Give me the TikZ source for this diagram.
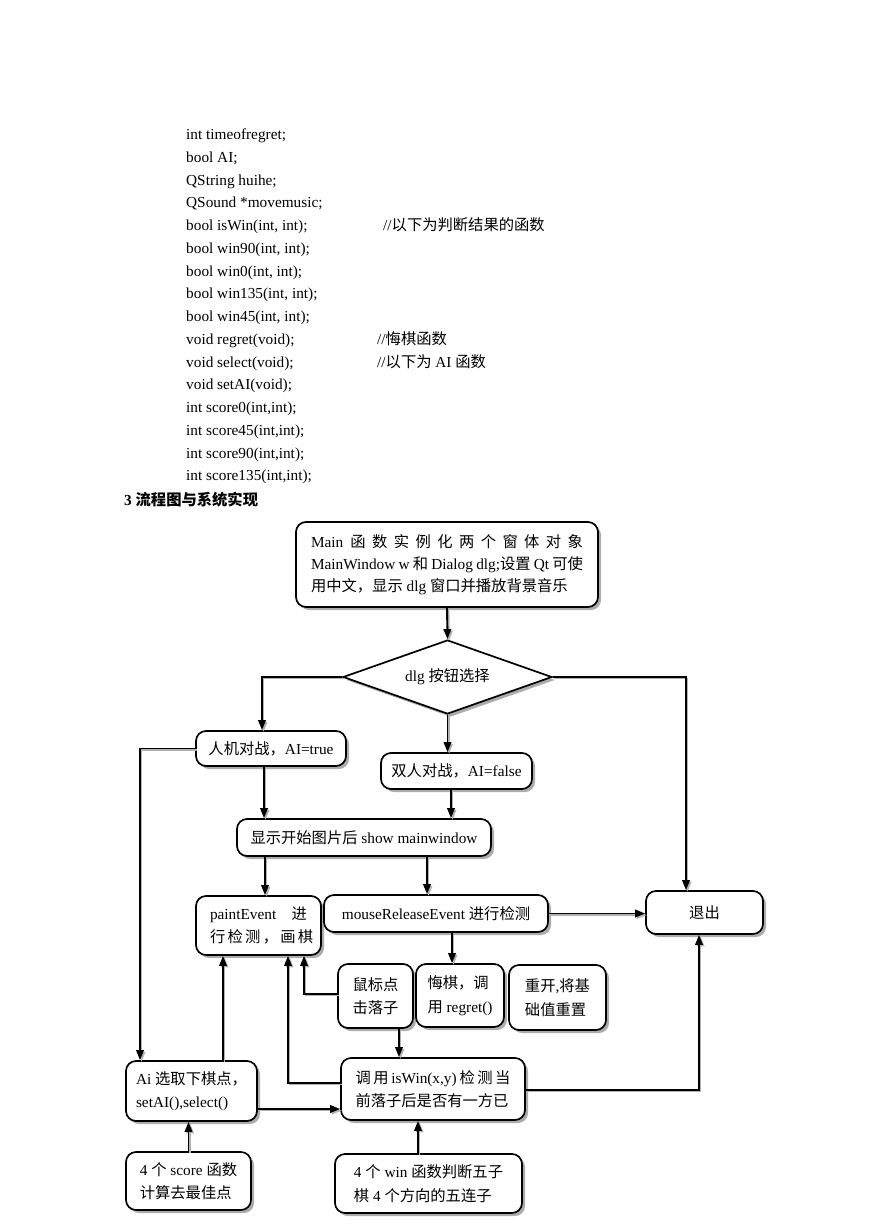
\documentclass[tikz,border=0pt]{standalone}
\usepackage{fontspec}
\setmainfont{Liberation Serif}
\newfontfamily\cjk{Noto Sans CJK SC}
\usepackage{tikz}
\usetikzlibrary{shapes.geometric, arrows.meta, shadows}
\newcommand{\zh}[1]{{\cjk #1}}
\newcommand{\spread}[2]{\makebox[#1][s]{#2}}
\newcommand{\docfont}{\fontsize{15.3pt}{23.5pt}\selectfont}

\tikzset{
  codeline/.style={anchor=base west, inner sep=0pt},
  flowbox/.style={draw, line width=1.7pt, rounded corners=10pt, fill=white, align=left, inner sep=0pt,
    drop shadow={shadow xshift=3pt, shadow yshift=-3pt, fill=gray!65, opacity=1}},
  decision/.style={draw, diamond, aspect=2.82, line width=1.7pt, fill=white, inner sep=0pt,
    drop shadow={shadow xshift=3pt, shadow yshift=-3pt, fill=gray!65, opacity=1}},
  flowline/.style={line width=1.9pt, -{Triangle[length=10pt, width=7.5pt]},
    preaction={draw=gray!60, line width=1.6pt, transform canvas={shift={(1.6pt,-1.6pt)}}}}
}

\begin{document}
\begin{tikzpicture}[x=1pt, y=-1pt, font=\docfont]
  \useasboundingbox (0,0) rectangle (869,1228);

  % member list of the window class
  \foreach \code [count=\i from 0] in {int timeofregret;, bool AI;, QString huihe;, QSound *movemusic;,
      {bool isWin(int, int);}, {bool win90(int, int);}, {bool win0(int, int);}, {bool win135(int, int);},
      {bool win45(int, int);}, void regret(void);, void select(void);, void setAI(void);,
      {int score0(int,int);}, {int score45(int,int);}, {int score90(int,int);}, {int score135(int,int);}}
    \node[codeline] (code\i) at (186,{139.5+22.75*\i}) {\code};
  \node[codeline] (note0) at (383,{139.5+22.75*4}) {//\zh{以下为判断结果的函数}};
  \node[codeline] (note1) at (377,{139.5+22.75*9}) {//\zh{悔棋函数}};
  \node[codeline] (note2) at (377,{139.5+22.75*10}) {//\zh{以下为} AI \zh{函数}};
  \node[codeline, font=\docfont\bfseries] (heading) at (124,505) {3 \zh{流程图与系统实现}};

  % flow chart
  \node[flowbox, font=\fontsize{15.3pt}{22pt}\selectfont, minimum width=302pt, minimum height=85pt] (main) at (447,564.5) {%
    \spread{272pt}{Main \zh{函 数 实 例 化 两 个 窗 体 对 象}}\\
    \spread{272pt}{MainWindow w \zh{和} Dialog dlg;\zh{设置} Qt \zh{可使}}\\
    \zh{用中文，显示} dlg \zh{窗口并播放背景音乐}};
  \node[decision, minimum width=209pt, minimum height=74pt] (choice) at (447.5,677) {dlg \zh{按钮选择}};
  \node[flowbox, minimum width=150pt, minimum height=35pt] (pve) at (271,748.5) {\zh{人机对战，}AI=true};
  \node[flowbox, minimum width=151pt, minimum height=36pt] (pvp) at (456.5,771) {\zh{双人对战，}AI=false};
  \node[flowbox, minimum width=254pt, minimum height=37pt] (show) at (364,837.5) {\zh{显示开始图片后} show mainwindow};
  \node[flowbox, minimum width=125pt, minimum height=59pt] (paint) at (258.5,925.5) {%
    \spread{97pt}{paintEvent \zh{进}}\\\spread{97pt}{\zh{行 检 测 ， 画 棋}}};
  \node[flowbox, minimum width=224pt, minimum height=37pt] (mouse) at (436,913.5) {mouseReleaseEvent \zh{进行检测}};
  \node[flowbox, minimum width=117pt, minimum height=43pt] (quit) at (704.5,912.5) {\zh{退出}};
  \node[flowbox, minimum width=75pt, minimum height=64pt] (click) at (375.5,996) {\zh{鼠标点}\\\zh{击落子}};
  \node[flowbox, minimum width=88pt, minimum height=63pt] (regret) at (460,995.5) {\zh{悔棋，调}\\\zh{用} regret()};
  \node[flowbox, minimum width=97pt, minimum height=65pt] (reset) at (557.5,997.5) {\zh{重开},\zh{将基}\\\zh{础值重置}};
  \node[flowbox, minimum width=131pt, minimum height=60pt] (aipick) at (191.5,1091) {Ai \zh{选取下棋点，}\\setAI(),select()};
  \node[flowbox, minimum width=184pt, minimum height=62pt] (check) at (433,1089) {%
    \spread{155pt}{\zh{调 用} isWin(x,y) \zh{检 测 当}}\\\zh{前落子后是否有一方已}};
  \node[flowbox, minimum width=125pt, minimum height=58pt] (score) at (188.5,1181) {4 \zh{个} score \zh{函数}\\\zh{计算去最佳点}};
  \node[flowbox, minimum width=187pt, minimum height=59pt] (wins) at (428.5,1183.5) {4 \zh{个} win \zh{函数判断五子}\\\zh{棋} 4 \zh{个方向的五连子}};

  % connectors
  \draw[flowline] (main.south) -- (choice.north);
  \draw[flowline] (choice.west) -| ([xshift=-9pt]pve.north);
  \draw[flowline] (choice.south) -- (choice.south |- pvp.north);
  \draw[flowline] (choice.east) -| ([xshift=-18.5pt]quit.north);
  \draw[flowline] ([xshift=-7pt]pve.south) -- ([xshift=-7pt]pve.south |- show.north);
  \draw[flowline] ([xshift=-5.5pt]pvp.south) -- ([xshift=-5.5pt]pvp.south |- show.north);
  \draw[flowline] (pve.west) -| ([xshift=-51.5pt]aipick.north);
  \draw[flowline] ([xshift=6.5pt]paint.north |- show.south) -- ([xshift=6.5pt]paint.north);
  \draw[flowline] ([xshift=-9pt]mouse.north |- show.south) -- ([xshift=-9pt]mouse.north);
  \draw[flowline] (mouse.east) -- (mouse.east -| quit.west);
  \draw[flowline] ([xshift=-8pt]regret.north |- mouse.south) -- ([xshift=-8pt]regret.north);
  \draw[flowline] ([yshift=2pt]click.west) -| ([xshift=45.5pt]paint.south);
  \draw[flowline] ([xshift=23.5pt]click.south) -- ([xshift=23.5pt]click.south |- check.north);
  \draw[flowline] ([yshift=6pt]check.west) -| ([xshift=29.5pt]paint.south);
  \draw[flowline] ([xshift=31.5pt]aipick.north) -- ([xshift=31.5pt]aipick.north |- paint.south);
  \draw[flowline] ([yshift=-18pt]aipick.east) -- ([yshift=-18pt]aipick.east -| check.west);
  \draw[flowline] ([yshift=-1pt]check.east) -| ([xshift=-5.5pt]quit.south);
  \draw[flowline] (score.north) -- (score.north |- aipick.south);
  \draw[flowline] ([xshift=-10.5pt]wins.north) -- ([xshift=-10.5pt]wins.north |- check.south);
\end{tikzpicture}
\end{document}
